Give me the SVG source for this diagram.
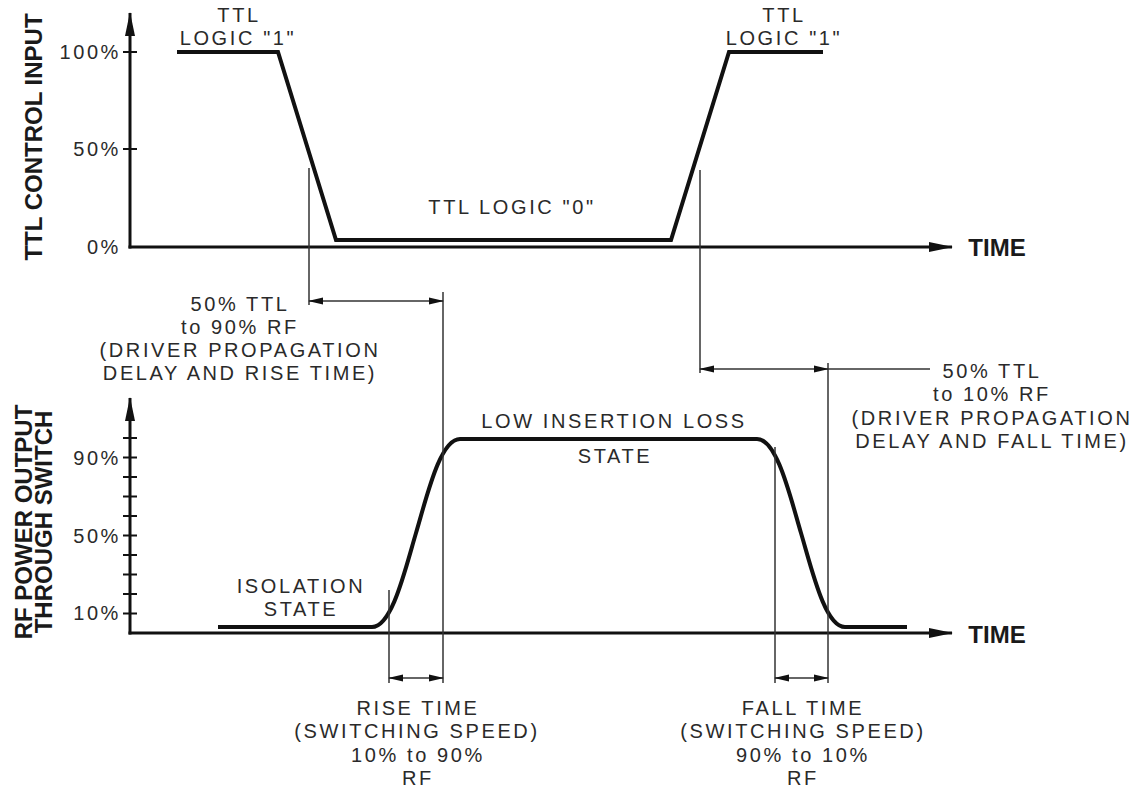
<svg xmlns="http://www.w3.org/2000/svg" width="1141" height="790" viewBox="0 0 1141 790">
<style>
.t{font-family:"Liberation Sans",Arial,sans-serif;font-size:20px;letter-spacing:2.6px;fill:#2a2a2a;text-anchor:middle}
.r{text-anchor:end}
.b{font-family:"Liberation Sans",Arial,sans-serif;font-size:24px;font-weight:bold;fill:#1a1a1a;text-anchor:middle}
.ax{stroke:#111;stroke-width:3;fill:none}
.tk{stroke:#111;stroke-width:2}
.wv{stroke:#111;stroke-width:4;fill:none;stroke-linejoin:miter}
.gd{stroke:#333;stroke-width:1.5;fill:none}
</style>
<defs>
<marker id="axh" markerUnits="userSpaceOnUse" markerWidth="24" markerHeight="12" refX="23" refY="6" orient="auto">
<path d="M0,1 L24,6 L0,11 Z" fill="#111"/>
</marker>
<marker id="dh" markerUnits="userSpaceOnUse" markerWidth="15" markerHeight="8" refX="14" refY="4" orient="auto-start-reverse">
<path d="M0,0.5 L15,4 L0,7.5 Z" fill="#111"/>
</marker>
</defs>
<rect width="1141" height="790" fill="#fff"/>

<g id="top-axes">
<line class="ax" x1="130" y1="248.5" x2="130" y2="13" marker-end="url(#axh)"/>
<line class="ax" x1="128.5" y1="247" x2="952" y2="247" marker-end="url(#axh)"/>
<line class="tk" x1="123" y1="52" x2="137" y2="52"/>
<line class="tk" x1="123" y1="149" x2="137" y2="149"/>
<text class="t r" x="121" y="59">100%</text>
<text class="t r" x="121" y="156">50%</text>
<text class="t r" x="121" y="254">0%</text>
<text class="b" transform="translate(42,137) rotate(-90)">TTL CONTROL INPUT</text>
<text class="b" x="997" y="256">TIME</text>
</g>

<g id="ttl-waveform">
<path class="wv" d="M177,52 H278 L336,240 H671 L729,52 H823"/>
</g>

<g id="ttl-labels">
<text class="t" x="239" y="22">TTL</text>
<text class="t" x="238" y="45">LOGIC "1"</text>
<text class="t" x="784" y="22">TTL</text>
<text class="t" x="784" y="45">LOGIC "1"</text>
<text class="t" x="512" y="214">TTL LOGIC "0"</text>
</g>

<g id="bottom-axes">
<line class="ax" x1="130" y1="634.5" x2="130" y2="398" marker-end="url(#axh)"/>
<line class="ax" x1="128.5" y1="633" x2="952" y2="633" marker-end="url(#axh)"/>
<g class="tk">
<line x1="123" y1="613.5" x2="137" y2="613.5"/>
<line x1="123" y1="594" x2="137" y2="594"/>
<line x1="123" y1="574.5" x2="137" y2="574.5"/>
<line x1="123" y1="555" x2="137" y2="555"/>
<line x1="123" y1="535.5" x2="137" y2="535.5"/>
<line x1="123" y1="516" x2="137" y2="516"/>
<line x1="123" y1="496.5" x2="137" y2="496.5"/>
<line x1="123" y1="477" x2="137" y2="477"/>
<line x1="123" y1="457.5" x2="137" y2="457.5"/>
<line x1="123" y1="438" x2="137" y2="438"/>
</g>
<text class="t r" x="121" y="465">90%</text>
<text class="t r" x="121" y="543">50%</text>
<text class="t r" x="121" y="620">10%</text>
<text class="b" transform="translate(32,522) rotate(-90)">RF POWER OUTPUT</text>
<text class="b" transform="translate(52,522) rotate(-90)">THROUGH SWITCH</text>
<text class="b" x="997" y="643">TIME</text>
</g>

<g id="rf-waveform">
<path class="wv" d="M218,627 H372 C392,627 405,570 416,533 C427,496 440,439 460,439 H757 C777,439 790,496 801,533 C812,570 825,627 845,627 H907"/>
</g>

<g id="rf-labels">
<text class="t" x="614" y="428">LOW INSERTION LOSS</text>
<text class="t" x="615" y="463">STATE</text>
<text class="t" x="301" y="593">ISOLATION</text>
<text class="t" x="301" y="616">STATE</text>
</g>

<g id="connectors">
<line class="gd" x1="309" y1="168" x2="309" y2="305"/>
<line class="gd" x1="443" y1="292" x2="443" y2="683"/>
<line class="gd" x1="700" y1="170" x2="700" y2="373"/>
<line class="gd" x1="828" y1="363" x2="828" y2="683"/>
<line class="gd" x1="389" y1="590" x2="389" y2="683"/>
<line class="gd" x1="775" y1="447" x2="775" y2="683"/>
<line class="gd" x1="309" y1="301" x2="443" y2="301" marker-start="url(#dh)" marker-end="url(#dh)"/>
<line class="gd" x1="700" y1="369" x2="828" y2="369" marker-start="url(#dh)" marker-end="url(#dh)"/>
<line class="gd" x1="828" y1="369" x2="930" y2="369"/>
<line class="gd" x1="389" y1="678" x2="443" y2="678" marker-start="url(#dh)" marker-end="url(#dh)"/>
<line class="gd" x1="775" y1="678" x2="828" y2="678" marker-start="url(#dh)" marker-end="url(#dh)"/>
</g>

<g id="rise-delay-label">
<text class="t" x="240" y="311">50% TTL</text>
<text class="t" x="240" y="334">to 90% RF</text>
<text class="t" x="240" y="357">(DRIVER PROPAGATION</text>
<text class="t" x="240" y="380">DELAY AND RISE TIME)</text>
</g>

<g id="fall-delay-label">
<text class="t" x="992" y="378">50% TTL</text>
<text class="t" x="992" y="401">to 10% RF</text>
<text class="t" x="992" y="425">(DRIVER PROPAGATION</text>
<text class="t" x="992" y="448">DELAY AND FALL TIME)</text>
</g>

<g id="rise-time-label">
<text class="t" x="418" y="715">RISE TIME</text>
<text class="t" x="417" y="738">(SWITCHING SPEED)</text>
<text class="t" x="418" y="762">10% to 90%</text>
<text class="t" x="418" y="785">RF</text>
</g>

<g id="fall-time-label">
<text class="t" x="803" y="715">FALL TIME</text>
<text class="t" x="803" y="738">(SWITCHING SPEED)</text>
<text class="t" x="803" y="762">90% to 10%</text>
<text class="t" x="803" y="785">RF</text>
</g>
</svg>
